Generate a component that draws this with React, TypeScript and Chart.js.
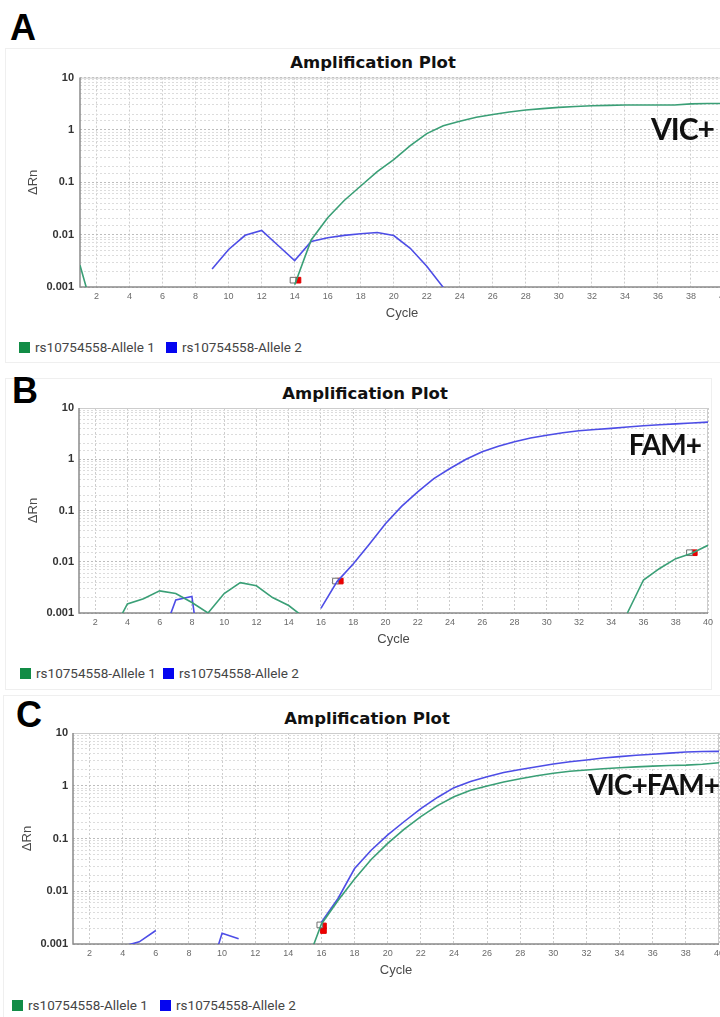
import React, { useEffect, useRef } from "react";
import { Chart, registerables } from "chart.js";

Chart.register(...registerables);

// ---------- DATA ----------
const cycles = [1, 2, 3, 4, 5, 6, 7, 8, 9, 10, 11, 12, 13, 14, 15, 16, 17, 18, 19, 20,
  21, 22, 23, 24, 25, 26, 27, 28, 29, 30, 31, 32, 33, 34, 35, 36, 37, 38, 39, 40];
const xTickLabels = ["2", "4", "6", "8", "10", "12", "14", "16", "18", "20",
  "22", "24", "26", "28", "30", "32", "34", "36", "38", "40"];
const yTickLabels = ["0.001", "0.01", "0.1", "1", "10"];
const seriesNames = ["rs10754558-Allele 1", "rs10754558-Allele 2"];

const _ = null;
// Panel A (VIC+)
const allele1A = [0.0026, 0.0002, _, _, _, _, _, _, _, _, _, _, _, 0.0011, 0.0079, 0.021, 0.045, 0.085, 0.16, 0.27,
  0.5, 0.85, 1.2, 1.47, 1.75, 1.98, 2.2, 2.4, 2.55, 2.7, 2.8, 2.9, 2.95, 3.0, 3.0, 3.0, 3.0, 3.15, 3.2, 3.2];
const allele2A = [_, _, _, _, _, _, _, _, 0.0022, 0.0052, 0.0097, 0.012, 0.0062, 0.0032, 0.0074, 0.0087, 0.0097, 0.0104, 0.011, 0.0096,
  0.0055, 0.0025, 0.00098, _, _, _, _, _, _, _, _, _, _, _, _, _, _, _, _, _];
const ctOpenCycleA = [13.9];
const ctOpenValueA = [0.00135];
const ctRedCycleA = [14.2];
const ctRedValueA = [0.00135];

// Panel B (FAM+)
const allele1B = [_, _, 0.00038, 0.0015, 0.0019, 0.0027, 0.0024, 0.0016, 0.001, 0.0024, 0.0039, 0.0034, 0.002, 0.0014, 0.0008, _, _, _, _, _,
  _, _, _, _, _, _, _, _, _, _, _, _, _, _, 0.001, 0.0044, 0.0074, 0.0115, 0.0146, 0.021];
const allele2B = [_, _, _, _, _, 0.00025, 0.0018, 0.0021, 0.00001, _, _, _, _, _, _, 0.00123, 0.0041, 0.009, 0.022, 0.055,
  0.12, 0.23, 0.42, 0.66, 1.0, 1.4, 1.8, 2.2, 2.6, 2.95, 3.3, 3.6, 3.8, 4.0, 4.25, 4.5, 4.7, 4.9, 5.1, 5.3];
const ctOpenCycleB = [16.9, 38.85];
const ctOpenValueB = [0.0042, 0.015];
const ctRedCycleB = [17.2, 39.15];
const ctRedValueB = [0.0042, 0.015];

// Panel C (VIC+FAM+)
const allele1C = [_, _, _, _, _, _, _, _, _, _, _, _, _, _, 0.00035, 0.0024, 0.0067, 0.017, 0.04, 0.081,
  0.15, 0.26, 0.42, 0.62, 0.82, 0.99, 1.18, 1.36, 1.55, 1.73, 1.88, 1.99, 2.1, 2.2, 2.28, 2.36, 2.42, 2.46, 2.55, 2.73];
const allele2C = [_, _, _, 0.0009, 0.0011, 0.0018, _, _, 0.00016, 0.0016, 0.00126, _, _, _, _, 0.0026, 0.0073, 0.027, 0.06, 0.117,
  0.21, 0.37, 0.6, 0.92, 1.2, 1.48, 1.78, 2.04, 2.3, 2.58, 2.85, 3.08, 3.35, 3.56, 3.78, 3.96, 4.15, 4.36, 4.45, 4.48];
const ctOpenCycleC = [15.9];
const ctOpenValueC = [0.0023];
const ctRedCycleC = [16.12, 16.12];
const ctRedValueC = [0.0018, 0.0022];

// ---------- STYLE ----------
const GREEN_LINE = "#3a9f76";
const BLUE_LINE = "#4d4de6";
const GREEN_KEY = "#128c46";
const BLUE_KEY = "#0505f0";
const SANS = "'Liberation Sans', Arial, sans-serif";

const framePlugin = {
  id: "frame",
  beforeDatasetsDraw(chart: any) {
    const { ctx, chartArea } = chart;
    const { left, right, top, bottom } = chartArea;
    ctx.save();
    ctx.strokeStyle = "#cdcdcd";
    ctx.lineWidth = 1;
    ctx.beginPath();
    ctx.moveTo(left, top + 0.5);
    ctx.lineTo(right, top + 0.5);
    ctx.moveTo(right - 0.5, top);
    ctx.lineTo(right - 0.5, bottom);
    ctx.stroke();
    ctx.strokeStyle = "#8a8a8a";
    ctx.lineWidth = 1.5;
    ctx.beginPath();
    ctx.moveTo(left, top);
    ctx.lineTo(left, bottom);
    ctx.lineTo(right, bottom);
    ctx.stroke();
    ctx.restore();
  },
};

type Geom = {
  plotLeft: number; plotRight: number; plotTop: number; plotBottom: number;
  yTitleX: number; yTickPad: number;
};

function isDecade(v: number) {
  const l = Math.log10(v);
  return Math.abs(l - Math.round(l)) < 1e-6;
}

function AmpChart(props: {
  a1: (number | null)[]; a2: (number | null)[];
  openX: number[]; openY: number[]; redX: number[]; redY: number[];
  g: Geom;
}) {
  const ref = useRef<HTMLCanvasElement>(null);
  const { g } = props;
  const padTop = 12;
  const padRight = 10;
  const xAxisH = 35;
  const canvasTop = g.plotTop - padTop;
  const width = g.plotRight + padRight;
  const height = g.plotBottom - canvasTop + xAxisH;

  useEffect(() => {
    const toPts = (vals: (number | null)[]) => cycles.map((c, i) => ({ x: c, y: vals[i] }));
    const zip = (xs: number[], ys: number[]) => xs.map((x, i) => ({ x, y: ys[i] }));
    const chart = new Chart(ref.current as HTMLCanvasElement, {
      type: "line",
      data: {
        datasets: [
          {
            label: seriesNames[0], data: toPts(props.a1) as any, borderColor: GREEN_LINE,
            backgroundColor: GREEN_LINE, borderWidth: 1.6, pointRadius: 0, spanGaps: false, tension: 0, clip: 0 as any,
          },
          {
            label: seriesNames[1], data: toPts(props.a2) as any, borderColor: BLUE_LINE,
            backgroundColor: BLUE_LINE, borderWidth: 1.6, pointRadius: 0, spanGaps: false, tension: 0, clip: 0 as any,
          },
          {
            type: "scatter" as any, label: "Ct", data: zip(props.openX, props.openY) as any,
            pointStyle: "rect", pointRadius: 4, backgroundColor: "#ffffff", borderColor: "#6f6f6f", borderWidth: 1,
            showLine: false,
          },
          {
            type: "scatter" as any, label: "Ct*", data: zip(props.redX, props.redY) as any,
            pointStyle: "rect", pointRadius: 4, backgroundColor: "#ee0000", borderColor: "#e00000", borderWidth: 1,
            showLine: false,
          },
        ],
      },
      options: {
        responsive: false,
        animation: false,
        devicePixelRatio: 1,
        layout: { padding: { top: padTop, right: padRight, left: 0, bottom: 0 } },
        plugins: { legend: { display: false }, title: { display: false }, tooltip: { enabled: false } },
        scales: {
          x: {
            type: "linear", min: 1, max: 40,
            afterBuildTicks: (s: any) => { s.ticks = cycles.map((v) => ({ value: v })); },
            afterFit: (s: any) => { s.height = xAxisH; },
            ticks: {
              autoSkip: false, maxRotation: 0, padding: 4, color: "#6a6a6a",
              font: { size: 9, family: SANS },
              callback: (v: any) => (xTickLabels.includes(String(v)) ? String(v) : ""),
            },
            grid: {
              drawTicks: false, lineWidth: 1,
              color: (ctx: any) => (ctx.tick && ctx.tick.value % 2 === 0 ? "#cdcdcd" : "rgba(0,0,0,0)"),
            },
            border: { display: false, dash: [2, 2] },
            title: {
              display: true, text: "Cycle", color: "#4a4a4a",
              font: { size: 13, family: SANS }, padding: { top: 0, bottom: 1 },
            },
          },
          y: {
            type: "logarithmic", min: 0.001, max: 10,
            afterFit: (s: any) => { s.width = g.plotLeft; },
            ticks: {
              autoSkip: false, padding: g.yTickPad, color: "#333333",
              font: { size: 11, family: SANS, weight: "bold" },
              callback: (v: any) => (isDecade(v) ? yTickLabels[Math.round(Math.log10(v)) + 3] : ""),
            },
            grid: {
              drawTicks: false, lineWidth: 1,
              color: (ctx: any) => (ctx.tick && isDecade(ctx.tick.value) ? "#bdbdbd" : "#dcdcdc"),
            },
            border: { display: false, dash: [2, 2] },
            title: {
              display: true, text: "ΔRn", color: "#4a4a4a",
              font: { size: 13, family: SANS }, padding: { top: g.yTitleX - 7.8, bottom: 0 },
            },
          },
        },
      } as any,
      plugins: [framePlugin],
    });
    return () => chart.destroy();
  }, []);

  return (
    <canvas
      ref={ref}
      width={width}
      height={height}
      style={{ position: "absolute", left: 0, top: canvasTop, width, height }}
    />
  );
}

function Text(props: { x: number; y: number; size: number; children: any; style?: any }) {
  return (
    <div
      style={{
        position: "absolute", left: props.x, top: props.y, fontSize: props.size,
        lineHeight: props.size + "px", whiteSpace: "nowrap", ...(props.style || {}),
      }}
    >
      {props.children}
    </div>
  );
}

function Legend(props: { y: number; x1: number; x2: number; sq: number }) {
  const { y, x1, x2, sq } = props;
  const txt = { fontFamily: "Roboto, sans-serif", fontSize: 13.5, color: "#454545" };
  return (
    <>
      <div style={{ position: "absolute", left: x1, top: y - sq / 2, width: sq, height: sq, background: GREEN_KEY }} />
      <Text x={x1 + sq + 5} y={y - 7} size={14} style={txt}>{seriesNames[0]}</Text>
      <div style={{ position: "absolute", left: x2, top: y - sq / 2, width: sq, height: sq, background: BLUE_KEY }} />
      <Text x={x2 + sq + 5} y={y - 7} size={14} style={txt}>{seriesNames[1]}</Text>
    </>
  );
}

const titleStyle = { fontFamily: "'DejaVu Sans', sans-serif", fontWeight: "bold", color: "#111" };
const letterStyle = { fontFamily: "'Liberation Sans', Arial, sans-serif", fontWeight: "bold", color: "#000" };
const tagStyle = { fontFamily: "Lato, sans-serif", fontWeight: "bold", color: "#111", letterSpacing: "-1px" };

function CenteredTitle(props: { cx: number; y: number }) {
  return (
    <div
      style={{
        position: "absolute", left: props.cx - 150, width: 300, top: props.y, textAlign: "center",
        fontSize: 16.5, lineHeight: "16.5px", ...titleStyle,
      }}
    >
      Amplification Plot
    </div>
  );
}

function Tag(props: { right: number; y: number; size: number; text: string }) {
  return (
    <div
      style={{
        position: "absolute", right: 720 - props.right, top: props.y, fontSize: props.size,
        lineHeight: props.size + "px", whiteSpace: "nowrap", ...tagStyle,
      }}
    >
      {props.text}
    </div>
  );
}

export default function App() {
  const frame = { position: "absolute" as const, border: "1px solid #efefef", boxSizing: "border-box" as const };
  return (
    <div
      style={{
        position: "absolute", left: 0, top: 0, width: 720, height: 1017, overflow: "hidden",
        background: "#ffffff",
      }}
    >
      <div style={{ ...frame, left: 5, top: 48, width: 730, height: 315 }} />
      <div style={{ ...frame, left: 5, top: 378, width: 707, height: 312 }} />
      <div style={{ ...frame, left: 3, top: 695, width: 730, height: 330 }} />

      {/* Panel A */}
      <Text x={10} y={10} size={36} style={letterStyle}>A</Text>
      <CenteredTitle cx={373} y={55} />
      <AmpChart
        a1={allele1A} a2={allele2A}
        openX={ctOpenCycleA} openY={ctOpenValueA} redX={ctRedCycleA} redY={ctRedValueA}
        g={{ plotLeft: 80, plotRight: 724, plotTop: 77, plotBottom: 287, yTitleX: 33, yTickPad: 6 }}
      />
      <Tag right={714} y={113} size={30} text="VIC+" />
      <Legend y={347} x1={19} x2={166} sq={11} />

      {/* Panel B */}
      <Text x={12} y={373} size={36} style={letterStyle}>B</Text>
      <CenteredTitle cx={365} y={386} />
      <AmpChart
        a1={allele1B} a2={allele2B}
        openX={ctOpenCycleB} openY={ctOpenValueB} redX={ctRedCycleB} redY={ctRedValueB}
        g={{ plotLeft: 79, plotRight: 708, plotTop: 408, plotBottom: 613, yTitleX: 33, yTickPad: 5 }}
      />
      <Tag right={701} y={430} size={28} text="FAM+" />
      <Legend y={673} x1={20} x2={163} sq={11} />

      {/* Panel C */}
      <Text x={16} y={697} size={36} style={letterStyle}>C</Text>
      <CenteredTitle cx={367} y={711} />
      <AmpChart
        a1={allele1C} a2={allele2C}
        openX={ctOpenCycleC} openY={ctOpenValueC} redX={ctRedCycleC} redY={ctRedValueC}
        g={{ plotLeft: 73, plotRight: 719, plotTop: 733, plotBottom: 944, yTitleX: 27, yTickPad: 5 }}
      />
      <Tag right={719} y={770} size={28} text="VIC+FAM+" />
      <Legend y={1005} x1={12} x2={160} sq={11} />
    </div>
  );
}
